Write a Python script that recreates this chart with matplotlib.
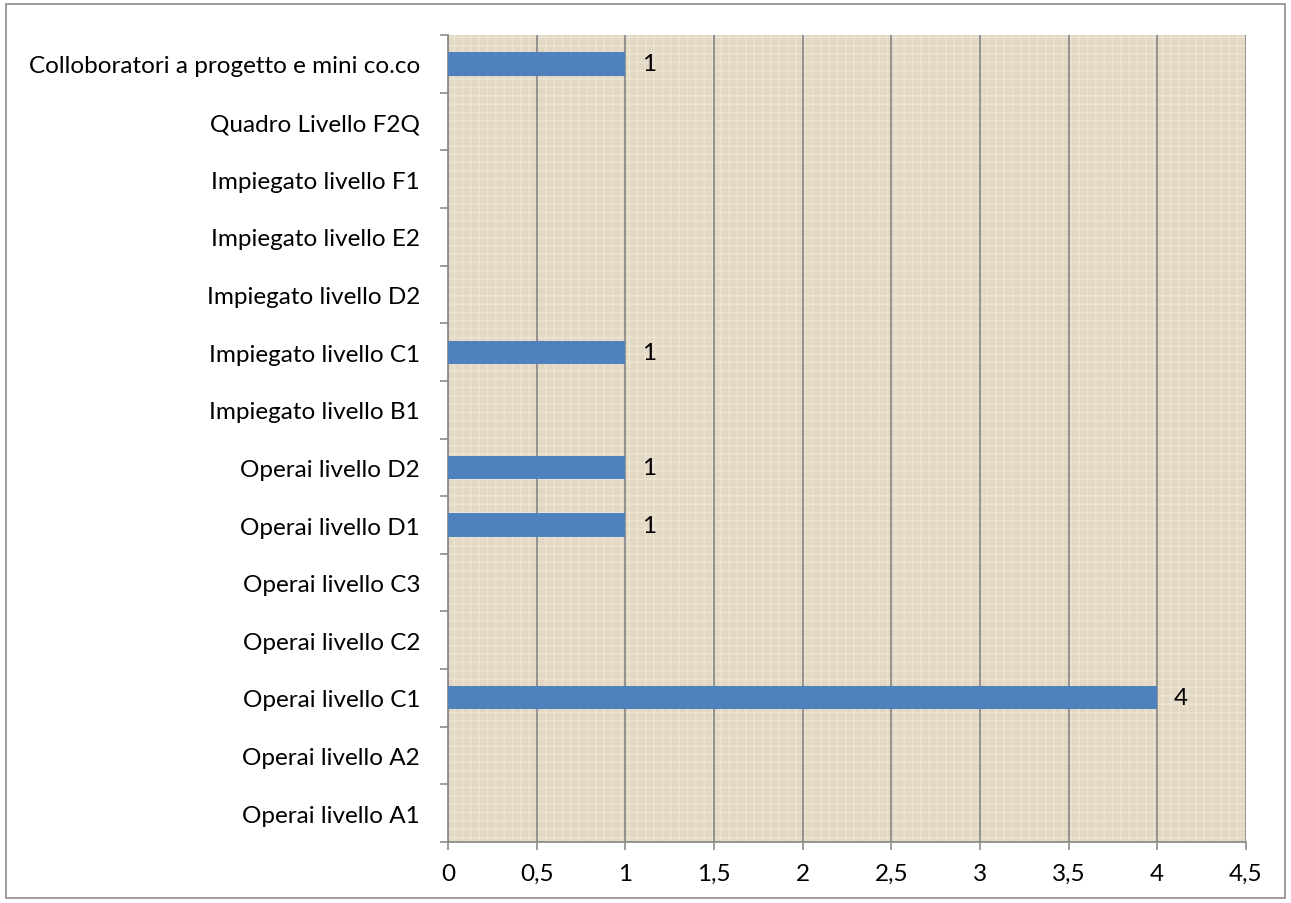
import numpy as np
from matplotlib import pyplot as plt
from matplotlib.patches import Rectangle

categories = [
    'Operai livello A1', 'Operai livello A2', 'Operai livello C1',
    'Operai livello C2', 'Operai livello C3', 'Operai livello D1',
    'Operai livello D2', 'Impiegato livello B1', 'Impiegato livello C1',
    'Impiegato livello D2', 'Impiegato livello E2', 'Impiegato livello F1',
    'Quadro Livello F2Q', 'Colloboratori a progetto e mini co.co',
]
values = [0, 0, 4, 0, 0, 1, 1, 0, 1, 0, 0, 0, 0, 1]
x_ticks = [0, 0.5, 1, 1.5, 2, 2.5, 3, 3.5, 4, 4.5]
x_labels = ['0', '0,5', '1', '1,5', '2', '2,5', '3', '3,5', '4', '4,5']

plt.rcParams['font.family'] = ['Lato', 'DejaVu Sans']
grey = '#8c8c8c'
fs = 17.5

fig = plt.figure(figsize=(12.91, 9.04), dpi=100)
fig.patches.append(Rectangle((0.005, 0.005), 0.99, 0.99, transform=fig.transFigure,
                             fill=False, edgecolor=grey, linewidth=1.2))
ax = fig.add_axes([0.347, 0.0675, 0.618, 0.8925])
ax.set_facecolor('#e2d8c3')
# linen-like texture
ax.add_patch(Rectangle((0, 0), 1, 1, transform=ax.transAxes, facecolor='none',
                       edgecolor='#ece5d4', hatch='++', linewidth=0, zorder=0.5))

y = np.arange(len(categories))
ax.barh(y, values, height=0.4, color='#4f81bd', zorder=3)
for yi, v in zip(y, values):
    if v > 0:
        ax.text(v + 0.095, yi, str(v), va='center', ha='left', fontsize=fs, zorder=4)

ax.set_xlim(0, 4.5)
ax.set_ylim(-0.5, len(categories) - 0.5)
ax.set_xticks(x_ticks)
ax.set_xticklabels(x_labels, fontsize=fs)
ax.set_yticks(y)
ax.set_yticklabels(categories, fontsize=fs)
ax.tick_params(axis='y', length=0, pad=20)
ax.set_yticks(np.arange(len(categories) + 1) - 0.5, minor=True)
ax.tick_params(axis='y', which='minor', length=6, color=grey, width=1.2)
ax.tick_params(axis='x', length=6, color=grey, width=1.2, pad=9)
ax.grid(axis='x', color=grey, linewidth=1.3, zorder=1)
ax.set_axisbelow(True)
for s in ['top', 'right']:
    ax.spines[s].set_visible(False)
for s in ['left', 'bottom']:
    ax.spines[s].set_color(grey)
    ax.spines[s].set_linewidth(1.3)

fig.savefig('out.png', dpi=100)
